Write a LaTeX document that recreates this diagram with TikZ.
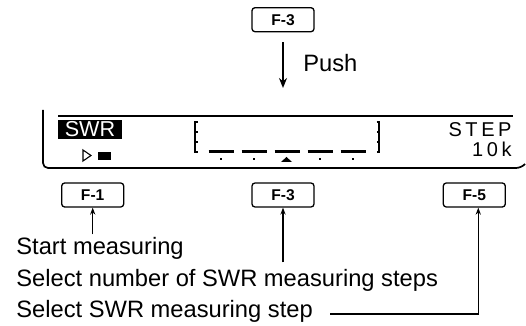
\documentclass[tikz,border=0pt]{standalone}
\usepackage{fontspec}
\setmainfont{Liberation Sans}
\newfontfamily\lcdfont[LetterSpace=18]{Liberation Sans}
\usepackage{tikz}
\usetikzlibrary{arrows.meta,positioning}

\begin{document}
\begin{tikzpicture}[
    x=0.5pt,y=-0.5pt,
    key/.style={draw,line width=0.65pt,rounded corners=1.5pt,minimum width=31pt,minimum height=12pt,inner sep=0pt,font=\bfseries\fontsize{7.8}{8}\selectfont},
    lbl/.style={font=\fontsize{11.85}{14}\selectfont,inner sep=1.5pt},
    arr/.style={-{Stealth[length=3.5pt,width=2.6pt]},line width=0.65pt},
    pusharr/.style={-{Stealth[length=5pt,width=4pt]},line width=0.65pt},
    lcd/.style={line width=0.85pt},
    seg/.style={line width=1.5pt},
    brk/.style={line width=1.3pt}
]
\useasboundingbox (0,0) rectangle (526,326);

\node[key] (key3) at (283,195) {F-3};
\node[key,left=63.5pt of key3] (key1) {F-1};
\node[key,right=64pt of key3] (key5) {F-5};
\node[key,above=75pt of key3] (topkey) {F-3};

\coordinate (pushend) at (283,88);
\draw[pusharr] ([yshift=-5pt]topkey.south) -- (pushend);
\node[lbl,anchor=base west,inner sep=0pt] (push) at (303,72) {Push};

% display
\draw[lcd] (58,116) -- (513,116);
\draw[lcd,rounded corners=2.5pt] (43,110) -- (43,168) -- (521,168) -- (525,164);
\node[fill=black,text=white,minimum width=32pt,minimum height=9.5pt,inner sep=0pt,font=\fontsize{10.8}{12}\selectfont] (swr) at (90,129.5) {SWR};
\draw[line width=0.55pt] (83,150) -- (91,155.5) -- (83,161) -- cycle;
\fill (98,152) rectangle (111,160);

\draw[brk] (197.5,122) -- (195,122) -- (195,152) -- (197.5,152);
\draw[brk] (376.5,122) -- (379,122) -- (379,152) -- (376.5,152);
\foreach \y in {132,142} {
  \draw[brk] (195,\y) -- (197.5,\y);
  \draw[brk] (379,\y) -- (376.5,\y);
}
\foreach \x in {221,254,287,320,353} {
  \draw[seg] (\x-12.5,152) -- (\x+12.5,152);
}
\foreach \x in {221,254,320,353} {
  \fill (\x-1,158) rectangle (\x+1,160);
}
\fill (281,162) -- (286.5,157) -- (292,162) -- cycle;

\node[anchor=base east,inner sep=0pt,font=\lcdfont\fontsize{10}{12}\selectfont] (step) at (512,137) {STEP};
\node[anchor=base east,inner sep=0pt,font=\lcdfont\fontsize{10}{12}\selectfont] (stepval) at (512,157) {10k};

% labels
\node[lbl,anchor=base west] (start) at (13,255) {Start measuring};
\node[lbl,anchor=base west] (number) at (13,287) {Select number of SWR measuring steps};
\node[lbl,anchor=base west] (stepsel) at (13,318) {Select SWR measuring step};

\draw[arr] (start.north -| key1) -- (key1.south);
\draw[arr] ([yshift=2pt]number.north -| key3) -- (key3.south);
\draw[arr] ([xshift=7pt,yshift=2pt]stepsel.base east) -| ([xshift=2pt]key5.south);
\end{tikzpicture}
\end{document}
